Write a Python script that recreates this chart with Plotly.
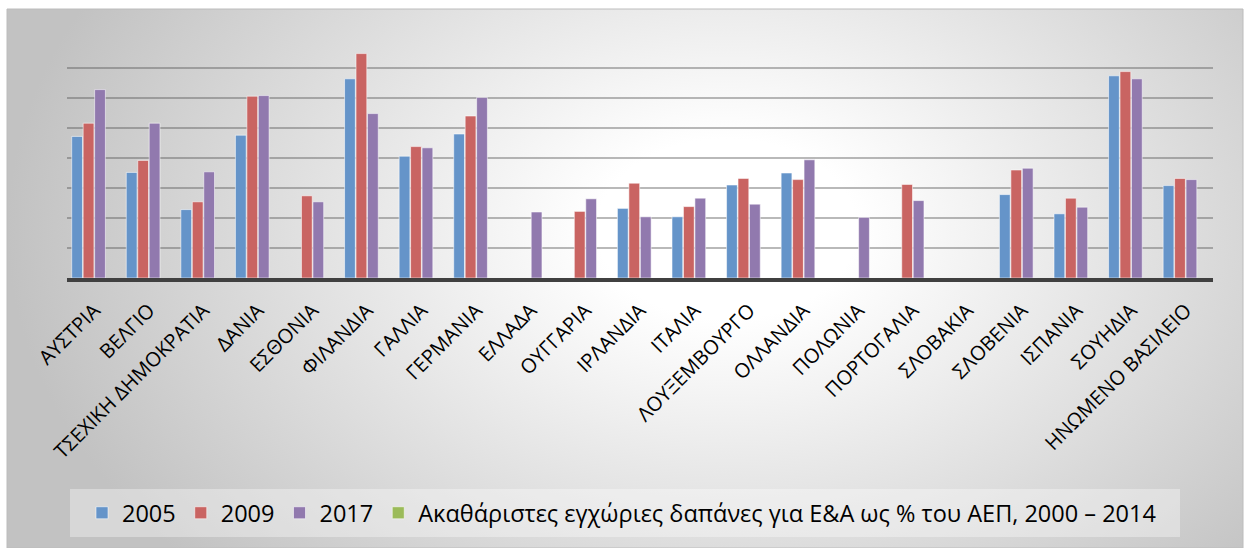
import base64
import plotly.graph_objects as go

countries = ["ΑΥΣΤΡΙΑ", "ΒΕΛΓΙΟ", "ΤΣΕΧΙΚΗ ΔΗΜΟΚΡΑΤΙΑ", "ΔΑΝΙΑ", "ΕΣΘΟΝΙΑ", "ΦΙΛΑΝΔΙΑ",
             "ΓΑΛΛΙΑ", "ΓΕΡΜΑΝΙΑ", "ΕΛΛΑΔΑ", "ΟΥΓΓΑΡΙΑ", "ΙΡΛΑΝΔΙΑ", "ΙΤΑΛΙΑ",
             "ΛΟΥΞΕΜΒΟΥΡΓΟ", "ΟΛΛΑΝΔΙΑ", "ΠΟΛΩΝΙΑ", "ΠΟΡΤΟΓΑΛΙΑ", "ΣΛΟΒΑΚΙΑ",
             "ΣΛΟΒΕΝΙΑ", "ΙΣΠΑΝΙΑ", "ΣΟΥΗΔΙΑ", "ΗΝΩΜΕΝΟ ΒΑΣΙΛΕΙΟ"]

v2005 = [2.36, 1.76, 1.14, 2.38, None, 3.32, 2.03, 2.40, None, None, 1.16,
         1.02, 1.55, 1.75, None, None, None, 1.39, 1.07, 3.37, 1.54]
v2009 = [2.58, 1.96, 1.27, 3.03, 1.37, 3.74, 2.19, 2.70, None, 1.11, 1.58,
         1.19, 1.66, 1.64, None, 1.56, None, 1.80, 1.33, 3.44, 1.66]
v2017 = [3.14, 2.58, 1.77, 3.04, 1.27, 2.74, 2.17, 3.01, 1.10, 1.32, 1.02,
         1.33, 1.23, 1.97, 1.01, 1.29, None, 1.83, 1.18, 3.32, 1.64]
v_gerd = [None] * len(countries)

series_names = ["2005", "2009", "2017",
                "Ακαθάριστες εγχώριες δαπάνες για Ε&Α ως % του ΑΕΠ, 2000 – 2014"]
series_values = [v2005, v2009, v2017, v_gerd]
series_colors = ["#6594c9", "#c96462", "#9179ae", "#9bbb59"]

FONT = "Open Sans"

fig = go.Figure()
for name, vals, col in zip(series_names, series_values, series_colors):
    fig.add_trace(go.Bar(
        x=countries, y=vals, name=name,
        marker=dict(color=col, line=dict(color="rgba(255,255,255,0.55)", width=1)),
    ))

# plot area geometry (pixels)
W, H = 1249, 548
L, R, T, B = 67, 36, 38, 270
pw = W - L - R
ph = H - T - B

def px_x(x):
    return (x - L) / pw

def px_y(y):
    return (H - B - y) / ph

# background gradient frame
fx0, fy0, fx1, fy1 = 7, 9, 1243, 548
fw, fh = fx1 - fx0, fy1 - fy0
svg = (
    f'<svg xmlns="http://www.w3.org/2000/svg" width="{fw}" height="{fh}" '
    f'viewBox="0 0 {fw} {fh}" preserveAspectRatio="none"><defs>'
    '<radialGradient id="g" gradientUnits="userSpaceOnUse" cx="0" cy="0" r="1" '
    'gradientTransform="translate(720 220) scale(720 500)">'
    '<stop offset="0" stop-color="#ffffff"/><stop offset="0.18" stop-color="#ffffff"/>'
    '<stop offset="1" stop-color="#c2c2c2"/></radialGradient></defs>'
    f'<rect x="0" y="0" width="{fw}" height="{fh}" fill="url(#g)"/></svg>'
)
src = "data:image/svg+xml;base64," + base64.b64encode(svg.encode()).decode()

fig.update_layout(
    width=W, height=H,
    margin=dict(l=L, r=R, t=T, b=B, pad=0),
    paper_bgcolor="white",
    plot_bgcolor="rgba(0,0,0,0)",
    barmode="group",
    bargap=0.16,
    bargroupgap=0.06,
    font=dict(family=FONT, color="#000000"),
    showlegend=True,
    legend=dict(
        orientation="h",
        x=px_x(82), y=px_y(513), xanchor="left", yanchor="middle",
        bgcolor="rgba(0,0,0,0)",
        font=dict(family=FONT, size=23.5, color="#000000"),
        itemwidth=30,
        traceorder="normal",
    ),
    images=[dict(
        source=src, xref="paper", yref="paper",
        x=px_x(fx0), y=px_y(fy0), sizex=fw / pw, sizey=fh / ph,
        xanchor="left", yanchor="top", sizing="stretch", layer="below",
    )],
    shapes=[
        dict(type="rect", xref="paper", yref="paper", layer="below",
             x0=px_x(fx0), x1=px_x(fx1), y0=px_y(fy1), y1=px_y(fy0),
             line=dict(color="#bcbcbc", width=1), fillcolor="rgba(0,0,0,0)"),
        dict(type="rect", xref="paper", yref="paper", layer="below",
             x0=px_x(70), x1=px_x(1180), y0=px_y(537), y1=px_y(489),
             line=dict(width=0), fillcolor="rgba(255,255,255,0.35)"),
    ],
)

fig.update_xaxes(
    showline=True, linecolor="#404040", linewidth=4,
    showgrid=False, ticks="outside", ticklen=9, tickcolor="rgba(0,0,0,0)",
    tickangle=-45, automargin=False,
    tickfont=dict(family=FONT, size=20, color="#000000"),
)
fig.update_yaxes(
    range=[0, 4], dtick=0.5, showticklabels=False, showgrid=True,
    gridcolor="rgba(80,80,80,0.4)", gridwidth=2, zeroline=False,
    showline=False, automargin=False,
)

fig.write_html("out.html")
